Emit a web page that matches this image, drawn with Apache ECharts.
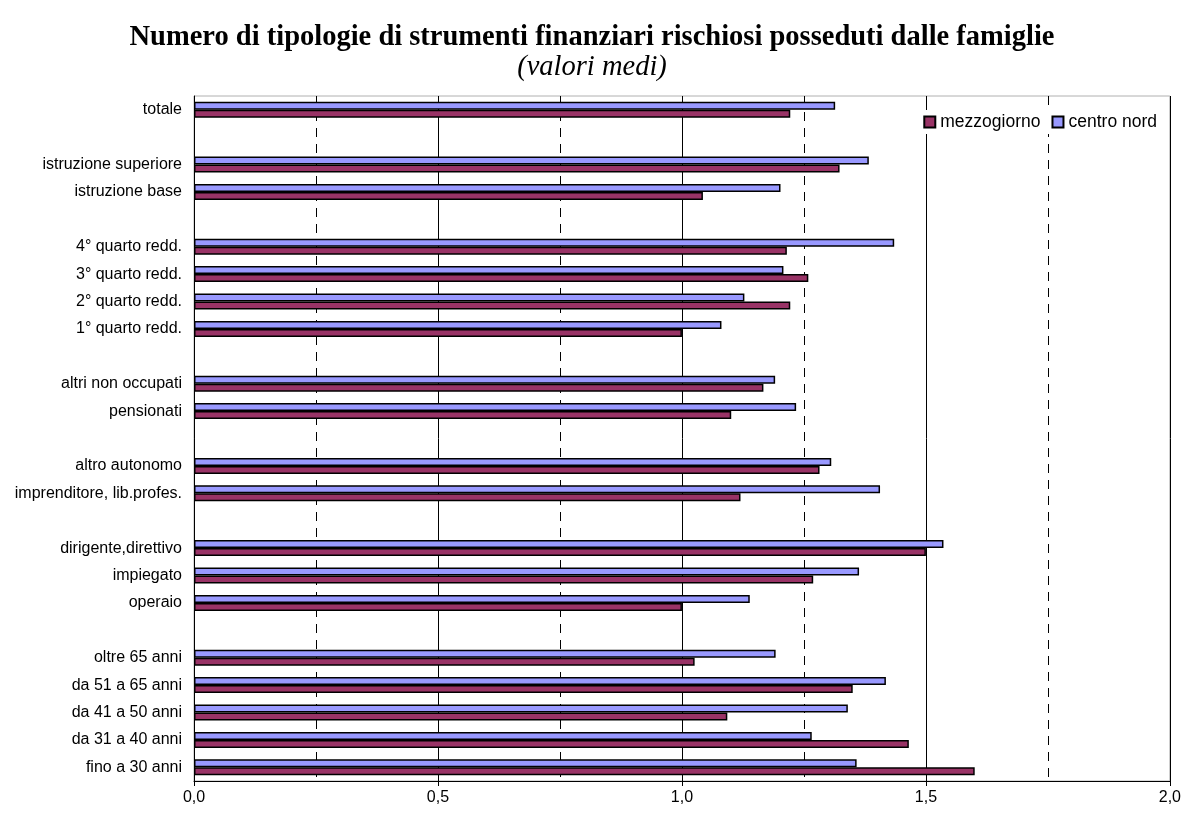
<!DOCTYPE html>
<html>
<head>
<meta charset="utf-8">
<script src="https://cdn.jsdelivr.net/npm/echarts@6/dist/echarts.min.js"></script>
<style>
  html, body { margin: 0; padding: 0; background: #fff; }
  #chart { width: 1184px; height: 819px; }
</style>
</head>
<body>
<div id="chart"></div>
<script>
// categories, bottom to top (Excel order), '' = empty spacer row
var categories = [
  'fino a 30 anni', 'da 31 a 40 anni', 'da 41 a 50 anni', 'da 51 a 65 anni', 'oltre 65 anni',
  '',
  'operaio', 'impiegato', 'dirigente,direttivo',
  '',
  'imprenditore, lib.profes.', 'altro autonomo',
  '',
  'pensionati', 'altri non occupati',
  '',
  '1° quarto redd.', '2° quarto redd.', '3° quarto redd.', '4° quarto redd.',
  '',
  'istruzione base', 'istruzione superiore',
  '',
  'totale'
];

var mezzogiorno = [
  1.600, 1.465, 1.093, 1.350, 1.026,
  null,
  1.000, 1.269, 1.500,
  null,
  1.120, 1.282,
  null,
  1.101, 1.167,
  null,
  1.000, 1.222, 1.259, 1.215,
  null,
  1.043, 1.323,
  null,
  1.222
];

var centroNord = [
  1.358, 1.266, 1.340, 1.418, 1.192,
  null,
  1.139, 1.363, 1.536,
  null,
  1.406, 1.306,
  null,
  1.234, 1.191,
  null,
  1.081, 1.128, 1.208, 1.435,
  null,
  1.202, 1.383,
  null,
  1.314
];

var chart = echarts.init(document.getElementById('chart'), null, { renderer: 'canvas' });

var option = {
  backgroundColor: '#fff',
  animation: false,
  title: {
    text: 'Numero di tipologie di strumenti finanziari rischiosi posseduti dalle famiglie',
    subtext: '(valori medi)',
    left: 'center',
    top: 18,
    itemGap: 1,
    textStyle: {
      fontFamily: 'Liberation Serif',
      fontWeight: 'bold',
      fontSize: 28.5,
      color: '#000'
    },
    subtextStyle: {
      fontFamily: 'Liberation Serif',
      fontStyle: 'italic',
      fontSize: 28.5,
      color: '#000'
    }
  },
  legend: {
    data: ['mezzogiorno', 'centro nord'],
    right: 24,
    top: 110,
    itemWidth: 11,
    itemHeight: 11,
    itemGap: 11,
    padding: [3, 3],
    backgroundColor: '#fff',
    icon: 'rect',
    textStyle: {
      fontFamily: 'Liberation Sans',
      fontSize: 17.5,
      color: '#000'
    }
  },
  grid: {
    left: 194,
    right: 14,
    top: 96,
    bottom: 38,
    show: true,
    borderColor: '#b0b0b0',
    borderWidth: 1
  },
  xAxis: {
    type: 'value',
    min: 0,
    max: 2,
    interval: 0.5,
    axisLine: { show: true, lineStyle: { color: '#000', width: 1 } },
    axisTick: { show: true, length: 5, lineStyle: { color: '#000' } },
    axisLabel: {
      fontFamily: 'Liberation Sans',
      fontSize: 16,
      color: '#000',
      margin: 9,
      formatter: function (v) { return v.toFixed(1).replace('.', ','); }
    },
    splitLine: { show: true, lineStyle: { color: '#000', width: 1 } },
    minorTick: { show: false, splitNumber: 2 },
    minorSplitLine: { show: true, lineStyle: { color: '#000', width: 1, type: [9, 7] } }
  },
  yAxis: {
    type: 'category',
    data: categories,
    axisLine: { show: true, lineStyle: { color: '#000', width: 1 } },
    axisTick: { show: false },
    axisLabel: {
      fontFamily: 'Liberation Sans',
      fontSize: 16,
      color: '#000',
      margin: 12,
      interval: 0
    },
    splitLine: { show: false }
  },
  series: [
    {
      name: 'centro nord',
      type: 'bar',
      data: centroNord,
      barWidth: 8,
      barGap: '0%',
      itemStyle: { color: '#9999ff', borderColor: '#000', borderWidth: 1.5 }
    },
    {
      name: 'mezzogiorno',
      type: 'bar',
      data: mezzogiorno,
      barWidth: 8,
      barGap: '0%',
      itemStyle: { color: '#993366', borderColor: '#000', borderWidth: 1.5 }
    }
  ]
};

chart.setOption(option);
window.addEventListener('resize', chart.resize);
</script>
</body>
</html>
